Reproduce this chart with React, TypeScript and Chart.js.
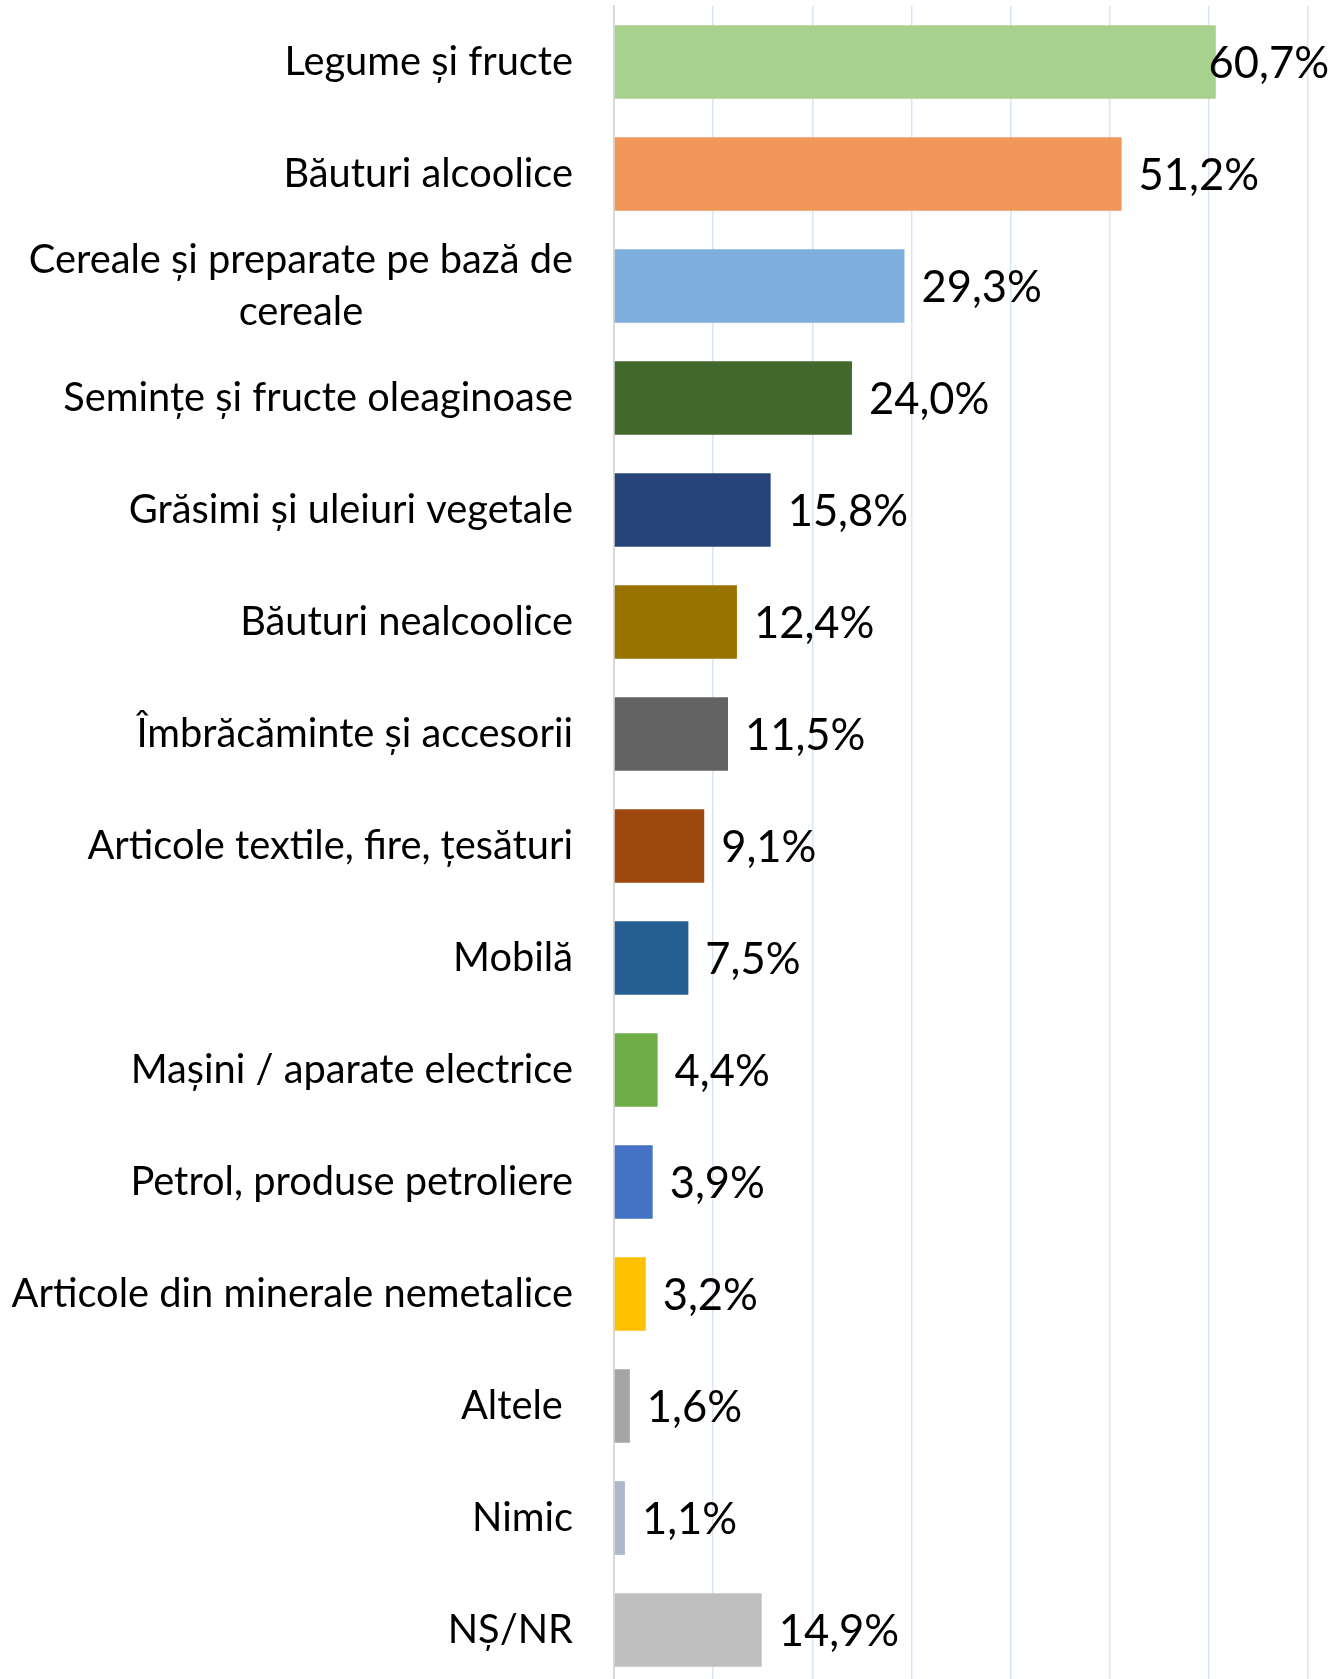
import React, { useEffect, useRef } from "react";
import { Chart, registerables } from "chart.js";

Chart.register(...registerables);

const categories: string[] = [
  "Legume și fructe",
  "Băuturi alcoolice",
  "Cereale și preparate pe bază de\ncereale",
  "Semințe și fructe oleaginoase",
  "Grăsimi și uleiuri vegetale",
  "Băuturi nealcoolice",
  "Îmbrăcăminte și accesorii",
  "Articole textile, fire, țesături",
  "Mobilă",
  "Mașini / aparate electrice",
  "Petrol, produse petroliere",
  "Articole din minerale nemetalice",
  "Altele ",
  "Nimic",
  "NȘ/NR",
];

const values: number[] = [60.7, 51.2, 29.3, 24.0, 15.8, 12.4, 11.5, 9.1, 7.5, 4.4, 3.9, 3.2, 1.6, 1.1, 14.9];

const barColors: string[] = [
  "#a9d18e",
  "#f1975a",
  "#7eafdd",
  "#43682b",
  "#264478",
  "#997300",
  "#636363",
  "#9e480e",
  "#255e91",
  "#70ad47",
  "#4472c4",
  "#ffc000",
  "#a5a5a5",
  "#adb9ca",
  "#bfbfbf",
];

const axisMax = 70;
const axisStep = 10;

const FONT = "Lato, 'Open Sans', sans-serif";

const labelsPlugin = {
  id: "customLabels",
  afterDatasetsDraw(chart: any) {
    const ctx = chart.ctx;
    const yScale = chart.scales.y;
    const meta = chart.getDatasetMeta(0);
    ctx.save();
    // category labels
    ctx.font = `39.8px ${FONT}`;
    ctx.fillStyle = "#000000";
    ctx.textBaseline = "middle";
    ctx.textAlign = "center";
    const rightX = chart.chartArea.left - 41;
    const lineH = 52;
    categories.forEach((cat, i) => {
      const lines = cat.split("\n");
      const y = yScale.getPixelForValue(i);
      const wMax = Math.max(...lines.map((l) => ctx.measureText(l).width));
      const cx = rightX - wMax / 2;
      const startY = y - ((lines.length - 1) * lineH) / 2;
      lines.forEach((l, k) => {
        ctx.fillText(l, cx, startY + k * lineH);
      });
    });
    // value labels
    ctx.font = `43.5px ${FONT}`;
    ctx.textAlign = "left";
    meta.data.forEach((bar: any, i: number) => {
      const txt = values[i].toFixed(1).replace(".", ",") + "%";
      const w = ctx.measureText(txt).width;
      let x = bar.x + 17;
      const maxRight = chart.width - 14;
      if (x + w > maxRight) x = maxRight - w;
      ctx.fillText(txt, x, bar.y + 2);
    });
    ctx.restore();
  },
};

export default function App() {
  const ref = useRef<HTMLCanvasElement | null>(null);
  useEffect(() => {
    if (!ref.current) return;
    const chart = new Chart(ref.current, {
      type: "bar",
      data: {
        labels: categories,
        datasets: [
          {
            data: values,
            backgroundColor: barColors,
            borderWidth: 0,
            barPercentage: 0.658,
            categoryPercentage: 1,
          },
        ],
      },
      options: {
        indexAxis: "y",
        animation: false,
        responsive: false,
        maintainAspectRatio: false,
        layout: { padding: { left: 614, right: 35, top: 6, bottom: 4 } },
        plugins: {
          legend: { display: false },
          tooltip: { enabled: false },
          title: { display: false },
        },
        scales: {
          x: {
            min: 0,
            max: axisMax,
            ticks: { display: false, stepSize: axisStep },
            grid: { color: "#dae5f3", lineWidth: 1.5, drawTicks: false },
            border: { display: false },
            afterFit: (s: any) => {
              s.height = 0;
            },
          },
          y: {
            ticks: { display: false },
            grid: { display: false, drawTicks: false },
            border: { display: true, color: "#d9d9d9", width: 2 },
            afterFit: (s: any) => {
              s.width = 0;
            },
          },
        },
      },
      plugins: [labelsPlugin],
    });
    return () => chart.destroy();
  }, []);
  return (
    <div
      style={{
        position: "absolute",
        left: 0,
        top: 0,
        width: 1343,
        height: 1679,
        overflow: "hidden",
        background: "#ffffff",
      }}
    >
      <canvas ref={ref} width={1343} height={1690} style={{ display: "block" }} />
    </div>
  );
}
